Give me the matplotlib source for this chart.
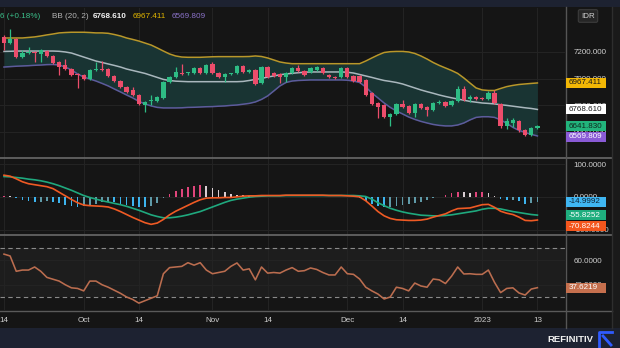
import matplotlib
matplotlib.use('Agg')
import matplotlib.pyplot as plt
import numpy as np
import pandas as pd
from matplotlib.patches import Rectangle
from matplotlib.lines import Line2D

plt.rcParams['font.family'] = ['Liberation Sans', 'DejaVu Sans']

# ---------------- data ----------------
dates = pd.bdate_range('2022-09-14', '2023-01-13')

opens = [7312, 7267, 7297, 7162, 7192, 7200, 7185, 7207, 7170, 7125,
         7102, 7072, 7035, 7027, 6997, 7068, 7072, 7072, 7020, 6982,
         6937, 6915, 6877, 6802, 6830, 6832, 6855, 6975, 7012, 7042,
         7040, 7042, 7080, 7042, 7110, 7042, 7012, 7035, 7042, 7095,
         7050, 7065, 6967, 7087, 7042, 7035, 7012, 7042, 7080, 7057,
         7050, 7065, 7080, 7027, 7012, 7012, 7080, 7020, 7020, 6990,
         6892, 6817, 6802, 6712, 6735, 6810, 6795, 6742, 6810, 6787,
         6765, 6817, 6825, 6802, 6832, 6922, 6847, 6862, 6850, 6847,
         6892, 6810, 6645, 6667, 6682, 6615, 6577, 6630]
highs = [7327, 7372, 7305, 7215, 7237, 7207, 7222, 7215, 7175, 7130,
         7147, 7080, 7042, 7035, 7072, 7125, 7132, 7080, 7027, 6990,
         6945, 6937, 6885, 6832, 6877, 6870, 6982, 7020, 7087, 7110,
         7050, 7087, 7087, 7110, 7125, 7050, 7042, 7045, 7100, 7100,
         7072, 7072, 7095, 7095, 7050, 7042, 7050, 7087, 7102, 7065,
         7087, 7095, 7087, 7035, 7020, 7087, 7087, 7027, 7030, 6997,
         6900, 6825, 6810, 6742, 6817, 6840, 6802, 6817, 6817, 6795,
         6825, 6840, 6832, 6840, 6945, 6945, 6877, 6870, 6862, 6910,
         6915, 6817, 6705, 6705, 6690, 6622, 6640, 6655]
lows = [7215, 7260, 7155, 7155, 7185, 7125, 7125, 7162, 7110, 7027,
        7065, 7020, 6930, 6990, 6990, 7060, 7060, 7012, 6975, 6930,
        6890, 6870, 6800, 6750, 6802, 6825, 6848, 6967, 7005, 7030,
        7030, 7035, 7035, 7035, 7035, 7005, 6975, 7027, 7035, 7042,
        7042, 6952, 6960, 7005, 7012, 6967, 6972, 7035, 7050, 7020,
        7042, 7057, 7035, 7005, 6997, 7005, 7005, 6975, 6967, 6870,
        6800, 6705, 6705, 6645, 6727, 6780, 6735, 6712, 6772, 6720,
        6757, 6810, 6787, 6795, 6825, 6832, 6825, 6840, 6840, 6840,
        6810, 6630, 6620, 6640, 6600, 6570, 6570, 6620]
closes = [7267, 7297, 7162, 7192, 7200, 7192, 7215, 7170, 7117, 7087,
          7072, 7027, 7027, 6997, 7065, 7075, 7068, 7020, 6982, 6937,
          6900, 6877, 6810, 6825, 6835, 6862, 6975, 7012, 7050, 7035,
          7042, 7080, 7042, 7102, 7042, 7012, 7035, 7038, 7095, 7050,
          7065, 6960, 7087, 7012, 7020, 7012, 7042, 7080, 7057, 7027,
          7080, 7087, 7042, 7012, 7005, 7080, 7012, 6982, 6975, 6877,
          6810, 6787, 6712, 6735, 6810, 6787, 6742, 6810, 6780, 6765,
          6817, 6825, 6795, 6832, 6922, 6840, 6862, 6847, 6847, 6892,
          6817, 6645, 6682, 6690, 6615, 6577, 6630, 6641.83]

bb_upper = [7305, 7305, 7305, 7305, 7309, 7313, 7320, 7328, 7335, 7343,
            7346, 7348, 7348, 7348, 7346, 7343, 7343, 7340, 7331, 7320,
            7305, 7294, 7282, 7267, 7252, 7230, 7207, 7185, 7170, 7162,
            7160, 7160, 7160, 7162, 7164, 7165, 7165, 7165, 7165, 7165,
            7166, 7170, 7166, 7155, 7140, 7125, 7117, 7112, 7112, 7112,
            7112, 7112, 7112, 7112, 7112, 7112, 7112, 7112, 7112, 7132,
            7155, 7177, 7196, 7202, 7204, 7204, 7200, 7189, 7170, 7147,
            7121, 7099, 7080, 7061, 7039, 7005, 6967, 6930, 6915, 6911,
            6911, 6926, 6940, 6949, 6956, 6960, 6964, 6967.411]
bb_mid = [7204, 7205, 7207, 7207, 7207, 7207, 7207, 7207, 7207, 7205,
          7200, 7192, 7177, 7162, 7147, 7132, 7121, 7110, 7099, 7087,
          7072, 7061, 7050, 7039, 7024, 7009, 6994, 6986, 6981, 6979,
          6977, 6977, 6977, 6977, 6977, 6977, 6977, 6977, 6977, 6979,
          6986, 6994, 7001, 7012, 7020, 7029, 7035, 7040, 7044, 7048,
          7050, 7050, 7050, 7050, 7050, 7050, 7048, 7042, 7031, 7020,
          7009, 6997, 6986, 6979, 6971, 6960, 6945, 6930, 6915, 6902,
          6890, 6877, 6866, 6856, 6847, 6838, 6829, 6823, 6817, 6814,
          6810, 6804, 6799, 6793, 6787, 6781, 6776, 6768.610]
bb_lower = [7087, 7090, 7093, 7095, 7097, 7100, 7102, 7105, 7106, 7102,
            7087, 7065, 7035, 7012, 6997, 6982, 6964, 6945, 6922, 6900,
            6877, 6855, 6829, 6810, 6795, 6784, 6780, 6780, 6780, 6781,
            6784, 6785, 6787, 6789, 6790, 6793, 6795, 6799, 6802, 6808,
            6814, 6825, 6844, 6870, 6907, 6945, 6971, 6982, 6986, 6988,
            6990, 6990, 6990, 6990, 6990, 6990, 6988, 6982, 6971, 6937,
            6892, 6855, 6817, 6784, 6757, 6735, 6712, 6694, 6679, 6667,
            6656, 6649, 6645, 6645, 6652, 6667, 6690, 6709, 6714, 6714,
            6709, 6690, 6664, 6634, 6611, 6596, 6581, 6569.809]

macd_line = [66, 63, 55, 46, 40, 37, 34, 31, 25, 14,
             3, -8, -18, -25, -27, -28, -29, -31, -37, -45,
             -54, -63, -71, -79, -84, -80, -69, -55, -44, -35,
             -26, -17, -9, -4, -3, -3, -2, -2, 0, 2,
             3, 3, 4, 4, 4, 4, 5, 5, 5, 5,
             5, 5, 5, 4, 4, 4, 3, 2, 0, -12,
             -28, -45, -58, -66, -70, -71, -72, -72, -71, -68,
             -62, -57, -52, -43, -36, -35, -34, -29, -24, -23,
             -32, -44, -50, -54, -62, -72, -73, -70.8244]
signal_line = [62, 61, 59, 57, 54, 52, 49, 45, 40, 34,
               27, 20, 12, 4, -2, -7, -12, -16, -20, -24,
               -29, -35, -41, -48, -55, -60, -64, -64, -62, -59,
               -55, -50, -45, -38, -31, -24, -17, -11, -7, -4,
               -1, 1, 2, 3, 3, 3, 4, 4, 4, 4,
               4, 4, 4, 4, 4, 4, 4, 4, 3, 1,
               -7, -18, -27, -35, -41, -46, -50, -53, -56, -57,
               -58, -58, -57, -55, -52, -49, -46, -43, -38, -35,
               -35, -37, -41, -45, -48, -51, -54, -55.8252]
macd_hist = [4, 2, -4, -11, -14, -15, -15, -14, -15, -20,
             -24, -28, -30, -29, -25, -21, -17, -15, -17, -21,
             -25, -28, -30, -31, -29, -20, -5, 9, 18, 24,
             29, 33, 36, 34, 28, 21, 15, 9, 7, 6,
             4, 2, 2, 1, 1, 1, 1, 1, 1, 1,
             1, 1, 1, 0, 0, 0, -1, -2, -3, -13,
             -21, -27, -31, -31, -29, -25, -22, -19, -15, -11,
             -4, 1, 5, 12, 16, 14, 12, 14, 14, 12,
             3, -7, -9, -9, -14, -21, -19, -14.9992]

rsi = [65, 63.5, 51, 52, 52, 54.5, 51, 46, 44.5, 43,
       40, 37.5, 37, 35, 43, 43, 40, 38, 35.5, 33,
       30, 28, 25, 27, 29, 31, 49, 54, 54.5, 55,
       58, 56, 58, 52, 49, 50, 51, 55, 57.8, 52,
       53, 44, 54.5, 49.5, 50, 49.5, 52, 54, 51, 51.5,
       53.7, 52.5, 50, 48, 48, 54.5, 49, 48.5, 44.7, 38,
       35, 32.4, 28.4, 30, 38, 37, 35, 41.4, 39, 38,
       44.7, 44, 41, 47, 54.5, 48.8, 49, 48.5, 48.5, 52,
       42, 33.6, 37, 37.5, 33.3, 31.6, 36.5, 37.6219]

tick_dates = ['2022-09-14', '2022-10-03', '2022-10-14', '2022-11-01', '2022-11-14',
              '2022-12-01', '2022-12-14', '2023-01-02', '2023-01-13']
tick_labels = ['14', 'Oct', '14', 'Nov', '14', 'Dec', '14', '2023', '13']
price_ticks = [7200, 7000, 6800, 6600]
macd_ticks = [100, 0, -100]
rsi_ticks = [60, 40]

# ---------------- style ----------------
BG = '#151515'
NAVY = '#1d2231'
GRID = '#232323'
UP = '#2ebd85'
DN = '#ec4d6b'
TXT = '#cfcfcf'
FS = 5.8

W, H = 620, 348
def fx(px): return px / W
def fy(py): return 1 - py / H

fig = plt.figure(figsize=(6.2, 3.48), dpi=100, facecolor=BG)

x = np.arange(len(dates))
tick_idx = [dates.get_loc(pd.Timestamp(d)) for d in tick_dates]
XL = (-0.65, 91.5)

def panel(top, bottom):
    ax = fig.add_axes([0, fy(bottom), fx(565), (bottom - top) / H])
    ax.set_facecolor(BG)
    for s in ax.spines.values():
        s.set_visible(False)
    ax.set_xlim(*XL)
    ax.set_xticks(tick_idx)
    ax.grid(True, axis='both', color=GRID, lw=0.8)
    ax.set_axisbelow(True)
    ax.yaxis.tick_right()
    ax.tick_params(axis='y', length=0, pad=6, labelsize=FS, colors=TXT)
    ax.tick_params(axis='x', length=0)
    return ax

def tag(ax, val, text, fc, tc, dy=0):
    yd = ax.transData.transform((0, val))[1] + dy
    fig.patches.append(Rectangle((fx(566), (yd - 5) / H), fx(606) - fx(566), 10 / H,
                                 transform=fig.transFigure, fc=fc, ec='none', zorder=5))
    fig.text(fx(569), yd / H, text, color=tc, fontsize=FS, ha='left', va='center',
             zorder=6)

# ---------- price panel ----------
axp = panel(8, 157.5)
axp.set_ylim(6408, 7530)
axp.set_yticks(price_ticks)
axp.set_yticklabels([f'{v:.3f}' for v in price_ticks])
axp.set_xticklabels([])

axp.fill_between(x, bb_lower, bb_upper, color='#193433', lw=0, zorder=1)
axp.plot(x, bb_upper, color='#b8972a', lw=1.1, zorder=2)
axp.plot(x, bb_mid, color='#a9b7bd', lw=1.1, zorder=2)
axp.plot(x, bb_lower, color='#5d5b9c', lw=1.1, zorder=2)

o = np.array(opens, float); c = np.array(closes, float)
hi = np.array(highs, float); lo = np.array(lows, float)
cols = np.where(c >= o, UP, DN)
axp.vlines(x, lo, hi, colors=cols, lw=0.9, zorder=3)
bottoms = np.minimum(o, c)
heights = np.maximum(np.abs(c - o), 6)
axp.bar(x, heights, bottom=bottoms, width=0.7, color=cols, lw=0, zorder=4)

tag(axp, bb_upper[-1], f'{bb_upper[-1]:.3f}', '#f2b705', '#1a1a1a')
tag(axp, bb_mid[-1], f'{bb_mid[-1]:.3f}', '#ffffff', '#1a1a1a')
tag(axp, closes[-1], f'{closes[-1]:.3f}', '#22b47c', '#10281e')
tag(axp, bb_lower[-1], f'{bb_lower[-1]:.3f}', '#8a5bd6', '#ffffff', dy=-1)

# ---------- MACD panel ----------
axm = panel(158.5, 234.5)
axm.set_ylim(-115, 117)
axm.set_yticks(macd_ticks)
axm.set_yticklabels([f'{v:.4f}' for v in macd_ticks])
axm.set_xticklabels([])
hcols = []
for i, h in enumerate(macd_hist):
    prev = macd_hist[i - 1] if i > 0 else h
    if h >= 0:
        hcols.append('#e0457b' if h >= prev else '#d9cdd2')
    else:
        hcols.append('#3db4ee' if h < prev else '#5f9aa8')
axm.bar(x, macd_hist, width=0.28, color=hcols, lw=0, zorder=2)
axm.plot(x, signal_line, color='#1fa97e', lw=1.2, zorder=3)
axm.plot(x, macd_line, color='#ef5a24', lw=1.2, zorder=4)
tag(axm, macd_hist[-1], f'{macd_hist[-1]:.4f}', '#3fb6f2', '#0f2233')
tag(axm, signal_line[-1], f'{signal_line[-1]:.4f}', '#1fae7e', '#ffffff')
tag(axm, macd_line[-1], f'{macd_line[-1]:.4f}', '#f4561d', '#ffffff', dy=-6)

# ---------- RSI panel ----------
axr = panel(235.5, 310)
axr.set_ylim(19.4, 80.2)
axr.set_yticks(rsi_ticks)
axr.set_yticklabels([f'{v:.4f}' for v in rsi_ticks])
axr.axhspan(30, 70, color='#ffffff', alpha=0.035, lw=0, zorder=0.5)
axr.axhline(70, color='#8a8a8a', lw=0.8, ls=(0, (4, 3)), zorder=1)
axr.axhline(30, color='#8a8a8a', lw=0.8, ls=(0, (4, 3)), zorder=1)
axr.plot(x, rsi, color='#bb6d4f', lw=1.15, zorder=3)
axr.set_xticklabels(tick_labels)
axr.tick_params(axis='x', pad=5, labelsize=FS, colors=TXT)
tag(axr, rsi[-1], f'{rsi[-1]:.4f}', '#c56f4d', '#ffffff')

# ---------- chrome ----------
fig.patches.append(Rectangle((0, fy(7)), 1, 7 / H, transform=fig.transFigure,
                             fc=NAVY, ec='none', zorder=0))
fig.patches.append(Rectangle((0, 0), 1, 20 / H, transform=fig.transFigure,
                             fc=NAVY, ec='none', zorder=0))
fig.patches.append(Rectangle((fx(612), fy(328)), 1 - fx(612), (328 - 7) / H,
                             transform=fig.transFigure, fc='#1a1a1a', ec='none', zorder=0))

def fline(xs, ys, color, lw=1.0):
    fig.lines.append(Line2D([fx(v) for v in xs], [fy(v) for v in ys],
                            transform=fig.transFigure, color=color, lw=lw))

fline([0, 612], [158, 158], '#6a6a6a', 1.2)
fline([0, 612], [235, 235], '#6a6a6a', 1.2)
fline([0, 612], [310.5, 310.5], '#5a5a5a', 1.0)
fline([565.5, 565.5], [7, 328], '#555555', 1.0)
fline([612, 612], [7, 328], '#2e2e2e', 1.0)

# header legend
hy = fy(16)
HF = 5.9
fig.text(fx(0), hy, '6 (+0.18%)', color='#3bbf8a', fontsize=HF, va='center')
fig.text(fx(52), hy, 'BB (20, 2)', color='#b5b5b5', fontsize=HF, va='center')
fig.text(fx(93), hy, f'{bb_mid[-1]:.3f}', color='#f0f0f0', fontsize=HF, va='center', weight='bold')
fig.text(fx(133), hy, f'{bb_upper[-1]:.3f}', color='#e0b400', fontsize=HF, va='center')
fig.text(fx(172), hy, f'{bb_lower[-1]:.3f}', color='#8a72c8', fontsize=HF, va='center')
fig.text(fx(588), hy, 'IDR', color='#d0d0d0', fontsize=FS, va='center', ha='center',
         bbox=dict(boxstyle='round,pad=0.35,rounding_size=0.2', fc='#262626', ec='#3c3c3c', lw=0.8))

# footer brand
fig.text(fx(593), fy(339), 'REFINITIV', color='#f2f2f2', fontsize=6.8, weight='bold',
         ha='right', va='center')
fline([599, 599, 612], [347, 332, 332], '#2f5bff', 2.0)
fline([603, 611], [336, 345], '#2f5bff', 2.0)

fig.savefig('out.png', dpi=100, facecolor=BG)
